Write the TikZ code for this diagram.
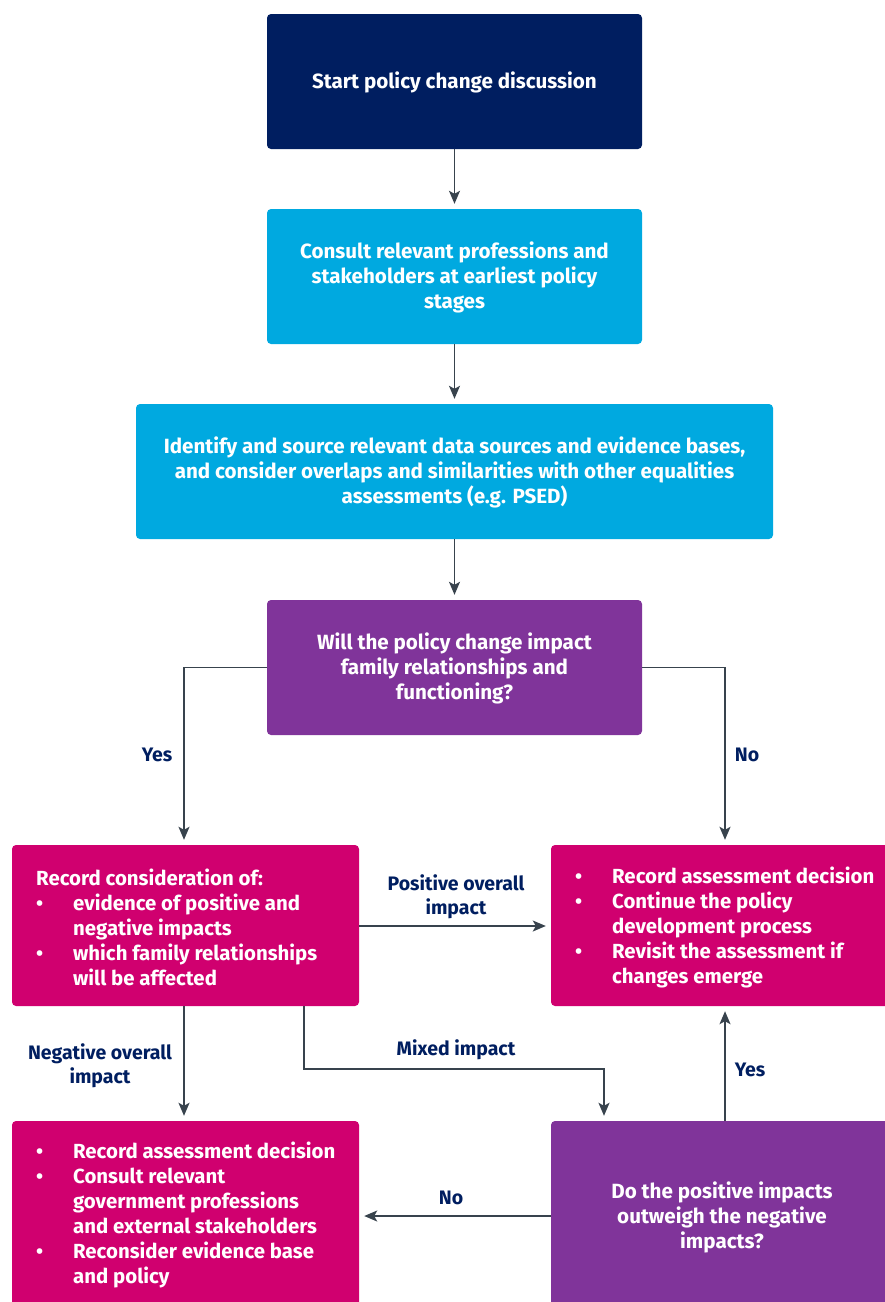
\documentclass[tikz,border=0pt]{standalone}
\usepackage{fontspec}
\setmainfont{Fira Sans}
\usetikzlibrary{arrows.meta}
\definecolor{navy}{HTML}{001E60}
\definecolor{cyanb}{HTML}{00A9E0}
\definecolor{purp}{HTML}{80349A}
\definecolor{mag}{HTML}{D0006F}
\definecolor{linec}{HTML}{38434D}
\tikzset{
  box/.style={rounded corners=4pt, inner sep=0pt},
  txt/.style={text=white, font=\fontsize{20.6}{25}\selectfont\bfseries, align=center, inner sep=0pt},
  ltxt/.style={text=white, font=\fontsize{20.4}{25}\selectfont\bfseries, align=left, inner sep=0pt, anchor=west},
  lab/.style={text=navy, font=\fontsize{19.5}{24}\selectfont\bfseries, align=center, inner sep=0pt},
  conn/.style={draw=linec, line width=1.6pt, -{Stealth[length=13pt,width=11pt,inset=3pt]}, shorten >=5pt}
}
\newcommand{\bul}[1]{\makebox[#1][l]{\textbullet}}
\begin{document}
\begin{tikzpicture}[x=1pt,y=-1pt]
\useasboundingbox (0,0) rectangle (885,1302);
\begin{scope}
\clip (0,0) rectangle (885,1302);
\fill[navy, box] (267,14) rectangle (642,149);
\fill[cyanb, box] (267,209) rectangle (642,344);
\fill[cyanb, box] (136,404) rectangle (773,539);
\fill[purp, box] (267,600) rectangle (642,735);
\fill[mag, box] (12,845) rectangle (359,1006);
\fill[mag, box] (551,845) rectangle (895,1006);
\fill[mag, box] (12,1121) rectangle (359,1320);
\fill[purp, box] (551,1121) rectangle (895,1320);
\end{scope}
% anchor nodes for boxes
\node[minimum width=375pt, minimum height=135pt, inner sep=0pt] (start) at (454.5,81.5) {};
\node[minimum width=375pt, minimum height=135pt, inner sep=0pt] (consult) at (454.5,276.5) {};
\node[minimum width=637pt, minimum height=135pt, inner sep=0pt] (identify) at (454.5,471.5) {};
\node[minimum width=375pt, minimum height=135pt, inner sep=0pt] (will) at (454.5,667.5) {};
\node[minimum width=347pt, minimum height=161pt, inner sep=0pt] (record) at (185.5,925.5) {};
\node[minimum width=334pt, minimum height=161pt, inner sep=0pt] (cont) at (718,925.5) {};
\node[minimum width=347pt, minimum height=181pt, inner sep=0pt] (recons) at (185.5,1211.5) {};
\node[minimum width=334pt, minimum height=181pt, inner sep=0pt] (outw) at (718,1211.5) {};
% texts
\node[txt] (t1) at (454.5,82) {Start policy change discussion};
\node[txt] (t2) at (454.5,277) {Consult relevant professions and\\stakeholders at earliest policy\\stages};
\node[txt] (t3) at (454.5,472) {Identify and source relevant data sources and evidence bases,\\and consider overlaps and similarities with other equalities\\assessments (e.g. PSED)};
\node[txt] (t4) at (454.5,668) {Will the policy change impact\\family relationships and\\functioning?};
\node[ltxt] (t5) at (36,927) {Record consideration of:\\\bul{37pt}evidence of positive and\\\hspace*{37pt}negative impacts\\\bul{37pt}which family relationships\\\hspace*{37pt}will be affected};
\node[ltxt] (t6) at (575,927) {\bul{37pt}Record assessment decision\\\bul{37pt}Continue the policy\\\hspace*{37pt}development process\\\bul{37pt}Revisit the assessment if\\\hspace*{37pt}changes emerge};
\node[ltxt] (t7) at (36,1215) {\bul{37pt}Record assessment decision\\\bul{37pt}Consult relevant\\\hspace*{37pt}government professions\\\hspace*{37pt}and external stakeholders\\\bul{37pt}Reconsider evidence base\\\hspace*{37pt}and policy};
\node[txt] (t8) at (722,1217) {Do the positive impacts\\outweigh the negative\\impacts?};
% connectors
\draw[conn] (start.south) -- (consult.north);
\draw[conn] (consult.south) -- (identify.north);
\draw[conn] (identify.south) -- (will.north);
\draw[conn] (will.west) -| (record.north -| 184,0);
\draw[conn] (will.east) -| (cont.north -| 725,0);
\draw[conn] (record.east |- 0,926) -- (cont.west |- 0,926);
\draw[conn] (record.south -| 184,0) -- (recons.north -| 184,0);
\draw[conn] (record.south -| 304,0) |- (604,1069) -- (outw.north -| 604,0);
\draw[conn] (outw.west |- 0,1216) -- (recons.east |- 0,1216);
\draw[conn] (outw.north -| 725,0) -- (cont.south -| 725,0);
% labels
\node[lab] (l1) at (157,755) {Yes};
\node[lab] (l2) at (747,755) {No};
\node[lab] (l3) at (456,897) {Positive overall\\impact};
\node[lab] (l4) at (100,1066) {Negative overall\\impact};
\node[lab] (l5) at (456,1050) {Mixed impact};
\node[lab] (l6) at (451,1198) {No};
\node[lab] (l7) at (750,1070) {Yes};
\end{tikzpicture}
\end{document}
